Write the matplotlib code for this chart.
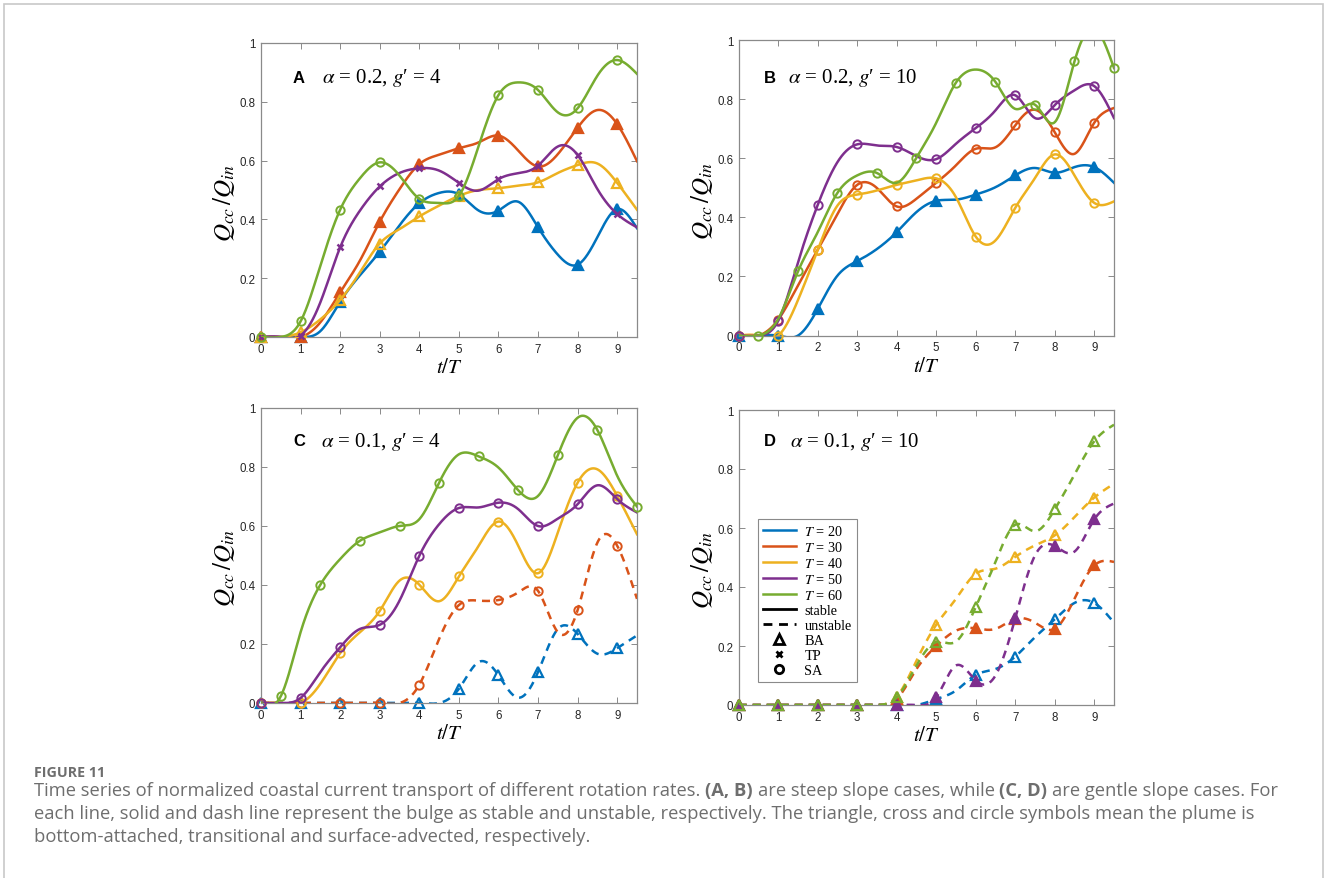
import numpy as np
import matplotlib
matplotlib.use("Agg")
import matplotlib.pyplot as plt
from matplotlib.lines import Line2D
from matplotlib.patches import Rectangle

plt.rcParams['mathtext.fontset'] = 'stix'
plt.rcParams['font.family'] = ['Liberation Sans', 'DejaVu Sans']

# ---------------- data ----------------
t_grid = [0, 0.5, 1, 1.5, 2, 2.5, 3, 3.5, 4, 4.5, 5, 5.5, 6, 6.5, 7, 7.5, 8, 8.5, 9, 9.5]
x_ticks = [0, 1, 2, 3, 4, 5, 6, 7, 8, 9]
y_ticks = [0, 0.2, 0.4, 0.6, 0.8, 1]
y_ticklabels = ['0', '0.2', '0.4', '0.6', '0.8', '1']
rot_labels = ['$T$ = 20', '$T$ = 30', '$T$ = 40', '$T$ = 50', '$T$ = 60']
panel_letters = ['A', 'B', 'C', 'D']
panel_params = ["$\\alpha$ = 0.2, $g$\u2032 = 4", "$\\alpha$ = 0.2, $g$\u2032 = 10",
                "$\\alpha$ = 0.1, $g$\u2032 = 4", "$\\alpha$ = 0.1, $g$\u2032 = 10"]

# Panel A
a_t20 = [0, 0, 0, 0.02, 0.12, 0.21, 0.29, 0.38, 0.455, 0.49, 0.485, 0.43, 0.43, 0.46, 0.373, 0.28, 0.246, 0.34, 0.435, 0.37]
a_t30 = [0, 0, 0, 0.05, 0.152, 0.26, 0.392, 0.503, 0.588, 0.62, 0.642, 0.662, 0.685, 0.634, 0.58, 0.622, 0.712, 0.772, 0.724, 0.598]
a_t40 = [0, 0, 0.016, 0.06, 0.126, 0.22, 0.318, 0.367, 0.41, 0.447, 0.48, 0.50, 0.506, 0.515, 0.526, 0.558, 0.585, 0.59, 0.524, 0.433]
a_t50 = [0, 0, 0.005, 0.118, 0.305, 0.43, 0.512, 0.558, 0.574, 0.566, 0.524, 0.498, 0.537, 0.557, 0.583, 0.648, 0.619, 0.503, 0.418, 0.373]
a_t60 = [0, 0, 0.053, 0.243, 0.433, 0.54, 0.594, 0.549, 0.47, 0.456, 0.48, 0.65, 0.823, 0.866, 0.84, 0.764, 0.778, 0.889, 0.942, 0.895]

# Panel B
b_t20 = [0, 0, 0, 0, 0.09, 0.203, 0.252, 0.293, 0.35, 0.418, 0.456, 0.46, 0.477, 0.502, 0.542, 0.567, 0.551, 0.57, 0.57, 0.517]
b_t30 = [0, 0, 0.054, 0.17, 0.29, 0.412, 0.51, 0.499, 0.437, 0.463, 0.517, 0.576, 0.632, 0.637, 0.711, 0.764, 0.688, 0.615, 0.72, 0.77]
b_t40 = [0, 0, 0, 0.12, 0.29, 0.44, 0.477, 0.491, 0.51, 0.525, 0.532, 0.468, 0.335, 0.322, 0.432, 0.533, 0.613, 0.542, 0.449, 0.454]
b_t50 = [0, 0, 0.05, 0.248, 0.442, 0.587, 0.647, 0.643, 0.638, 0.607, 0.597, 0.649, 0.702, 0.762, 0.813, 0.736, 0.78, 0.83, 0.844, 0.736]
b_t60 = [0, 0, 0.056, 0.217, 0.35, 0.483, 0.542, 0.55, 0.517, 0.602, 0.72, 0.856, 0.9, 0.858, 0.767, 0.781, 0.722, 0.928, 1.04, 0.905]

# Panel C
c_t20 = [0, 0, 0, 0, 0, 0, 0, 0, 0, 0, 0.048, 0.139, 0.094, 0.018, 0.105, 0.251, 0.234, 0.167, 0.186, 0.229]
c_t30 = [0, 0, 0, 0, 0, 0, 0, 0, 0.062, 0.217, 0.332, 0.347, 0.349, 0.375, 0.38, 0.24, 0.315, 0.544, 0.533, 0.353]
c_t40 = [0, 0, 0, 0.065, 0.169, 0.24, 0.312, 0.415, 0.401, 0.345, 0.429, 0.533, 0.615, 0.533, 0.44, 0.578, 0.747, 0.792, 0.702, 0.572]
c_t50 = [0, 0, 0.017, 0.105, 0.189, 0.251, 0.265, 0.347, 0.499, 0.606, 0.661, 0.663, 0.679, 0.657, 0.6, 0.625, 0.674, 0.738, 0.691, 0.646]
c_t60 = [0, 0.023, 0.24, 0.401, 0.488, 0.55, 0.578, 0.6, 0.623, 0.747, 0.843, 0.836, 0.798, 0.721, 0.702, 0.84, 0.967, 0.925, 0.77, 0.666]

# Panel D
d_t20 = [0, 0, 0, 0, 0, 0, 0, 0, 0, 0, 0.02, 0.049, 0.102, 0.122, 0.164, 0.23, 0.29, 0.346, 0.346, 0.279]
d_t30 = [0, 0, 0, 0, 0, 0, 0, 0, 0.02, 0.122, 0.2, 0.252, 0.26, 0.258, 0.292, 0.279, 0.258, 0.36, 0.473, 0.485]
d_t40 = [0, 0, 0, 0, 0, 0, 0, 0, 0.028, 0.15, 0.272, 0.36, 0.445, 0.462, 0.502, 0.541, 0.575, 0.637, 0.703, 0.75]
d_t50 = [0, 0, 0, 0, 0, 0, 0, 0, 0, 0, 0.026, 0.134, 0.083, 0.1, 0.294, 0.507, 0.539, 0.52, 0.629, 0.683]
d_t60 = [0, 0, 0, 0, 0, 0, 0, 0, 0.026, 0.134, 0.213, 0.215, 0.332, 0.485, 0.611, 0.589, 0.663, 0.781, 0.894, 0.95]

caption_title = "FIGURE 11"
caption_lines = [
    [("Time series of normalized coastal current transport of different rotation rates.", False), ("(A, B)", True),
     ("are steep slope cases, while", False), ("(C, D)", True), ("are gentle slope cases. For", False)],
    [("each line, solid and dash line represent the bulge as stable and unstable, respectively. The triangle, cross and circle symbols mean the plume is", False)],
    [("bottom-attached, transitional and surface-advected, respectively.", False)],
]

# ---------------- styles ----------------
colors = ['#0072BD', '#D95319', '#EDB120', '#7E2F8E', '#77AC30']
W, H = 1328, 879


def natural_spline(x, y, xs):
    x = np.asarray(x, float)
    y = np.asarray(y, float)
    n = len(x)
    h = np.diff(x)
    A = np.zeros((n, n))
    r = np.zeros(n)
    A[0, 0] = 1
    A[-1, -1] = 1
    for i in range(1, n - 1):
        A[i, i - 1] = h[i - 1]
        A[i, i] = 2 * (h[i - 1] + h[i])
        A[i, i + 1] = h[i]
        r[i] = 6 * ((y[i + 1] - y[i]) / h[i] - (y[i] - y[i - 1]) / h[i - 1])
    M = np.linalg.solve(A, r)
    idx = np.clip(np.searchsorted(x, xs, side='right') - 1, 0, n - 2)
    hi = h[idx]
    t1 = x[idx + 1] - xs
    t0 = xs - x[idx]
    return (M[idx] * t1 ** 3 / (6 * hi) + M[idx + 1] * t0 ** 3 / (6 * hi)
            + (y[idx] / hi - M[idx] * hi / 6) * t1 + (y[idx + 1] / hi - M[idx + 1] * hi / 6) * t0)


fig = plt.figure(figsize=(W / 100, H / 100), dpi=100)
fig.patch.set_facecolor('white')

axes_px = [(261, 44, 376, 294), (738.7, 41, 375.3, 295.6), (261, 409, 376, 295), (738.7, 411, 375.3, 295)]

panel_data = [
    [a_t20, a_t30, a_t40, a_t50, a_t60],
    [b_t20, b_t30, b_t40, b_t50, b_t60],
    [c_t20, c_t30, c_t40, c_t50, c_t60],
    [d_t20, d_t30, d_t40, d_t50, d_t60],
]
# style per series: (marker, dashed, half-step markers, filled)
panel_styles = [
    [('^', False, False, True), ('^', False, False, True), ('^', False, False, False), ('x', False, False, False), ('o', False, False, False)],
    [('^', False, False, True), ('o', False, False, False), ('o', False, False, False), ('o', False, False, False), ('o', False, True, False)],
    [('^', True, False, False), ('o', True, False, False), ('o', False, False, False), ('o', False, False, False), ('o', False, True, False)],
    [('^', True, False, False), ('^', True, False, True), ('^', True, False, False), ('^', True, False, True), ('^', True, False, False)],
]
letter_x = [0.085, 0.067, 0.085, 0.067]
param_x = [0.162, 0.131, 0.159, 0.137]
text_y = [0.883, 0.874, 0.889, 0.896]

tt = np.asarray(t_grid, float)
xs = np.linspace(tt[0], tt[-1], 800)
axis_gray = '#8a8a8a'
serif = ['Liberation Serif', 'DejaVu Serif']

for k, (lx, ty, wx, hy) in enumerate(axes_px):
    ax = fig.add_axes([lx / W, 1 - (ty + hy) / H, wx / W, hy / H])
    for j, vals in enumerate(panel_data[k]):
        mk, dashed, half, filled = panel_styles[k][j]
        col = colors[j]
        ys = natural_spline(tt, vals, xs)
        ln, = ax.plot(xs, ys, color=col, lw=1.8, zorder=2 + j)
        if dashed:
            ln.set_dashes((3.2, 2.4))
        sel = [i for i in range(len(t_grid)) if (i % 2 == 1) == half]
        mx = [t_grid[i] for i in sel]
        my = [vals[i] for i in sel]
        if mk == 'x':
            ax.plot(mx, my, ls='none', marker='x', ms=4.5, mew=1.8, color=col, zorder=2 + j, clip_on=False)
        elif mk == '^':
            ax.plot(mx, my, ls='none', marker='^', ms=6.5, mew=1.6, color=col,
                    mfc=col if filled else 'none', zorder=2 + j, clip_on=False)
        else:
            ax.plot(mx, my, ls='none', marker='o', ms=6, mew=1.4, color=col, mfc='none', zorder=2 + j, clip_on=False)

    ax.set_xlim(0, 9.5)
    ax.set_ylim(0, 1)
    ax.set_xticks(x_ticks)
    ax.set_xticklabels([str(v) for v in x_ticks])
    ax.set_yticks(y_ticks)
    ax.set_yticklabels(y_ticklabels)
    ax.tick_params(direction='in', top=True, right=True, length=4, width=0.7,
                   colors=axis_gray, labelcolor='#262626', labelsize=8.3, pad=4)
    for sp in ax.spines.values():
        sp.set_color(axis_gray)
        sp.set_linewidth(0.9)
    ax.set_xlabel('$t/T$', fontsize=15, labelpad=2)
    ax.set_ylabel('$Q_{cc}\\,/Q_{in}$', fontsize=18)
    ax.yaxis.set_label_coords(-0.064, 0.46)

    ax.text(letter_x[k], text_y[k], panel_letters[k], transform=ax.transAxes, fontsize=12,
            fontweight='bold', family='Liberation Sans', va='center', ha='left')
    ax.text(param_x[k], text_y[k], panel_params[k], transform=ax.transAxes, fontsize=15,
            family=serif, va='center', ha='left')

    if k == 3:
        handles = [Line2D([], [], color=c, lw=1.8) for c in colors]
        handles += [Line2D([], [], color='black', lw=2),
                    Line2D([], [], color='black', lw=2, dashes=(3.2, 2.4)),
                    Line2D([], [], color='black', ls='none', marker='^', ms=6.5, mew=2, mfc='none'),
                    Line2D([], [], color='black', ls='none', marker='x', ms=4, mew=2),
                    Line2D([], [], color='black', ls='none', marker='o', ms=6, mew=2, mfc='none')]
        labels = rot_labels + ['stable', 'unstable', 'BA', 'TP', 'SA']
        leg = ax.legend(handles, labels, loc='lower left', bbox_to_anchor=(0.051, 0.079),
                        prop={'family': 'Liberation Serif', 'size': 10.3},
                        frameon=True, fancybox=False, edgecolor=axis_gray, framealpha=1,
                        handlelength=2.3, handletextpad=0.6, labelspacing=0.14,
                        borderpad=0.35, borderaxespad=0)
        leg.get_frame().set_linewidth(0.8)

# ---------------- caption ----------------
cap_color = '#6e6e6e'
cap_family = 'Open Sans'
fig.text(34 / W, 1 - 776.7 / H, caption_title, fontsize=10.3, fontweight='bold',
         family=cap_family, color=cap_color, va='baseline', ha='left')

renderer = fig.canvas.get_renderer()
cap_size = 13.2


def text_width(s, bold):
    t = fig.text(0, 0, s, fontsize=cap_size, family=cap_family, fontweight='bold' if bold else 'normal')
    w = t.get_window_extent(renderer).width
    t.remove()
    return w


space_w = text_width('x x', False) - text_width('xx', False)
baselines = [795.7, 818.7, 841.7]
for line, base in zip(caption_lines, baselines):
    xpix = 34
    for s, bold in line:
        t = fig.text(xpix / W, 1 - base / H, s, fontsize=cap_size, family=cap_family,
                     fontweight='bold' if bold else 'normal', color=cap_color,
                     va='baseline', ha='left')
        xpix += t.get_window_extent(renderer).width + space_w

fig.add_artist(Rectangle((4 / W, -0.05), (1323 - 4) / W, 1 - 4.5 / H + 0.05,
                         transform=fig.transFigure, fill=False, edgecolor='#c8c8c8', lw=1.2))

fig.savefig('out.png', dpi=100, facecolor='white')
